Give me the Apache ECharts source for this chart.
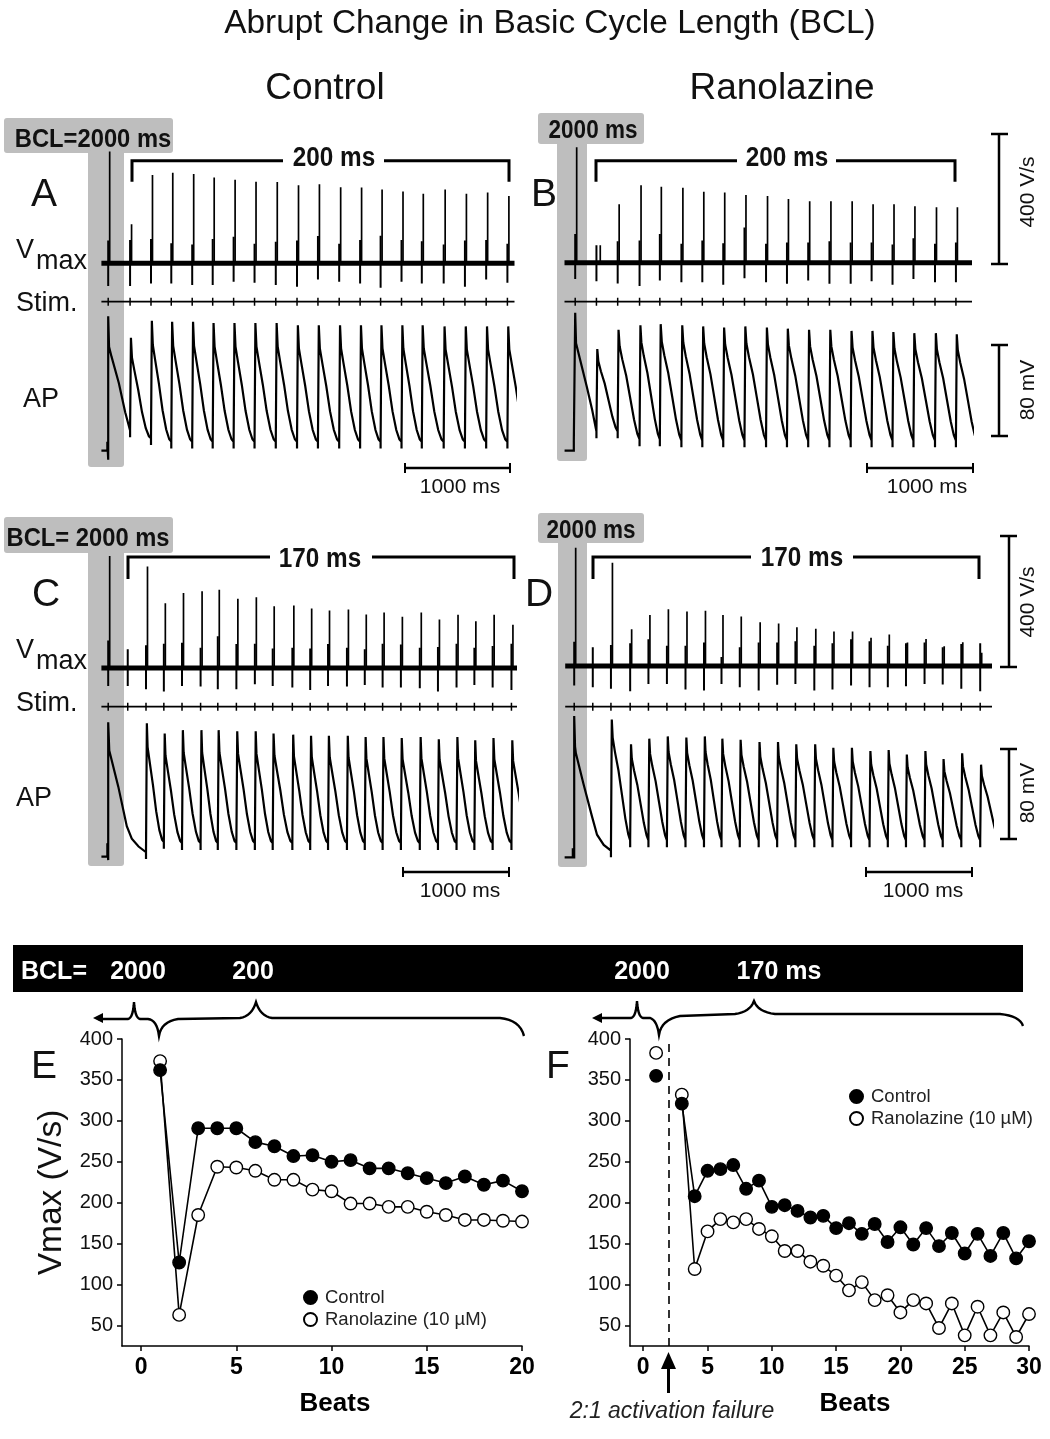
<!DOCTYPE html>
<html><head><meta charset="utf-8"><style>html,body{margin:0;padding:0;background:#fff}#c{width:1050px;height:1439px}</style>
<script src="https://cdn.jsdelivr.net/npm/echarts@6/dist/echarts.min.js"></script></head>
<body><div id="c"></div>
<script>
// ---- Panel E / F summary data (Vmax in V/s by beat)
const beatsE = [1,2,3,4,5,6,7,8,9,10,11,12,13,14,15,16,17,18,19,20];
const controlE = [362,127,291,291,291,274,269,257,258,250,252,242,242,236,230,224,232,222,227,214];
const ranolazineE = [373,63,185,244,243,239,228,228,216,214,199,199,195,195,189,185,179,179,178,177];
const beatsF = [1,2,3,4,5,6,7,8,9,10,11,12,13,14,15,16,17,18,19,20,21,22,23,24,25,26,27,28,29,30];
const controlF = [355,null,321,208,239,241,246,217,227,195,197,190,182,184,169,175,162,174,152,170,149,169,147,163,138,162,135,163,132,153];
const ranolazineF = [383,null,332,119,165,180,176,180,168,159,141,141,128,123,111,93,103,81,87,66,81,77,47,77,38,73,38,66,36,64];
const yTicks = [50,100,150,200,250,300,350,400];
const xTicksE = [0,5,10,15,20];
const xTicksF = [0,5,10,15,20,25,30];

// ---- Panel A trace readings (ms, V/s, mV above rest)
const aBeats = [0,206,403,594,791,984,1181,1378,1578,1778,1975,2175,2372,2565,2762,2953,3159,3359,3559,3759];
const aSpikes = [344,120,272,279,275,264,257,251,250,240,243,234,233,227,221,214,227,214,218,207];
const aUp = [70,72,75,62,58,75,82,60,66,70,84,60,72,85,72,68,58,70,72,60];
const aDown = [70,70,62,62,67,67,57,60,67,72,50,57,62,75,57,62,62,72,50,60];
const aPeaks = [null,100,115,114,114,113,113,113,113,111,111,111,111,111,111,111,110,110,110,110];
const aTroughs = [null,11,8,8,8,8,8,8,8,8,8,8,8,8,8,8,8,8,8,8];
const aFirst = [[-64,0],[-8,0],[-8,8],[0,8],[0,-8],[0,119],[8,92],[32,83],[100,60],[160,34],[206,18]];

// ---- Panel B
const bBeats = [0,200,400,606,797,1000,1197,1394,1594,1797,1994,2194,2394,2594,2791,2988,3185,3388,3585];
const bSpikes = [355,54,180,238,234,231,218,216,208,205,196,189,189,189,180,180,174,171,171];
const bUp = [88,54,66,68,88,58,68,60,108,58,62,62,66,62,62,56,75,58,62];
const bDown = [50,57,64,72,55,60,60,68,48,60,65,55,65,65,57,68,50,60,60];
const bPeaks = [null,90,107,111,112,111,110,109,110,109,108,107,107,106,106,105,104,104,103];
const bTroughs = [null,17,10,10,9,9,9,9,9,9,9,9,9,9,9,9,9,9,9];
const bFirst = [[-100,0],[-13,0],[-13,8],[0,8],[0,122],[8,95],[111,56],[160,36],[200,17]];
const bDelays = [14,36];

// ---- Panel C
const cBeats = [0,184,356,524,695,870,1032,1207,1381,1549,1734,1902,2070,2248,2416,2584,2756,2934,3105,3280,3448,3620,3797];
const cSpikes = [345,null,312,199,231,236,241,213,218,190,192,183,177,180,165,171,158,171,149,164,144,164,133];
const cUp = [85,58,70,75,78,62,98,74,75,60,62,60,74,62,58,75,72,62,65,75,62,68,75];
const cDown = [55,55,65,72,55,57,65,65,50,55,60,68,55,57,52,60,60,62,72,60,52,60,68];
const cPeaks = [null,null,118,109,112,112,112,111,111,109,108,107,107,107,106,106,105,106,104,106,103,105,103];
const cTroughs = [null,null,13,12,12,12,12,12,12,12,12,12,12,12,12,12,12,12,12,12,12,12,12];
const cFirst = [[-64,0],[-8,0],[-8,12],[0,12],[0,-3],[0,119],[10,94],[95,62],[175,27],[222,16],[286,9],[356,4]];

// ---- Panel D
const dBeats = [0,175,346,527,699,873,1048,1222,1387,1559,1737,1911,2083,2261,2432,2607,2781,2953,3124,3299,3470,3645,3823];
const dSpikes = [364,null,318,113,157,175,168,170,157,152,135,131,119,115,106,106,87,97,72,83,61,73,41];
const dUp = [75,58,65,70,82,62,62,72,28,58,72,72,76,62,70,82,76,62,70,72,58,68,70];
const dDown = [60,65,70,78,55,55,72,75,55,65,75,58,55,75,72,60,65,65,62,55,57,70,78];
const dPeaks = [null,null,122,100,105,107,106,107,105,104,102,102,100,100,97,97,94,95,91,94,87,92,82];
const dTroughs = [null,null,15,15,15,15,15,15,15,15,15,15,15,15,15,15,15,15,15,15,15,15,15];
const dFirst = [[-90,0],[-13,0],[-13,8],[0,8],[0,-1],[0,125],[8,98],[16,92],[87,65],[168,36],[215,20],[278,11],[346,6]];

// fall shapes read from one typical beat: [fraction of cycle, fraction of fall]
const controlShape = [[0.04,0],[0.09,0.2],[0.21,0.33],[0.39,0.52],[0.57,0.74],[0.75,0.9],[0.9,0.98],[1,1]];
const ranolazineShape = [[0.04,0],[0.09,0.15],[0.21,0.27],[0.39,0.42],[0.57,0.62],[0.75,0.82],[0.9,0.95],[1,1]];

const panels = [
 {beats:aBeats,spikes:aSpikes,up:aUp,down:aDown,peaks:aPeaks,troughs:aTroughs,first:aFirst,shape:controlShape,delays:[14],
  t0:108.2,left:101.4,right:514.5,base:263.3,stim:301.7,rest:450.7},
 {beats:bBeats,spikes:bSpikes,up:bUp,down:bDown,peaks:bPeaks,troughs:bTroughs,first:bFirst,shape:ranolazineShape,delays:bDelays,
  t0:575.2,left:564.5,right:972,base:262.7,stim:301.7,rest:450.7},
 {beats:cBeats,spikes:cSpikes,up:cUp,down:cDown,peaks:cPeaks,troughs:cTroughs,first:cFirst,shape:controlShape,delays:[14],
  t0:108.2,left:101.4,right:517,base:668,stim:706.7,rest:856.7},
 {beats:dBeats,spikes:dSpikes,up:dUp,down:dDown,peaks:dPeaks,troughs:dTroughs,first:dFirst,shape:ranolazineShape,delays:[14],
  t0:574.2,left:565.2,right:992,base:666,stim:706.7,rest:857.3}
];
const PX_PER_MS = 0.1062, BREAK = '-';

const grid=[], xAxis=[], yAxis=[], series=[];
function addGrid(left,top,width,height,xMin,xMax,yMin,yMax){
  grid.push({left,top,width,height,containLabel:false});
  xAxis.push({type:'value',gridIndex:grid.length-1,min:xMin,max:xMax,show:false});
  yAxis.push({type:'value',gridIndex:grid.length-1,min:yMin,max:yMax,show:false});
  return grid.length-1;
}
function trace(idx,data,width){
  series.push({type:'line',xAxisIndex:idx,yAxisIndex:idx,data,showSymbol:false,symbol:'none',connectNulls:false,
    silent:true,animation:false,clip:true,z:5,lineStyle:{color:'#000',width,join:'miter',cap:'butt'}});
}
panels.forEach(p=>{
  const w=p.right-p.left, tMin=-(p.t0-p.left)/PX_PER_MS, tMax=(p.right-p.t0)/PX_PER_MS;
  const end=tMax;
  // Vmax row
  const vi=addGrid(p.left,p.base-130,w,162.5,tMin,tMax,-100,400);
  trace(vi,[[tMin,0],[end,0]],5);
  const art=[], sp=[];
  p.beats.forEach((t,i)=>{
    art.push([t,-p.down[i]],[t,p.up[i]],[t,BREAK]);
    const dl=p.delays[i]!==undefined?p.delays[i]:p.delays[0];
    if(p.spikes[i]!==null){ sp.push([t+dl,0],[t+dl,p.spikes[i]],[t+dl,BREAK]); }
  });
  trace(vi,art,2); trace(vi,sp,1.7);
  // Stim row
  const si=addGrid(p.left,p.stim-5,w,10,tMin,tMax,-1,1);
  trace(si,[[tMin,0],[end,0]],1.7);
  const st=[]; p.beats.forEach(t=>st.push([t,-0.8],[t,0.8],[t,BREAK]));
  trace(si,st,1.5);
  // AP row
  const ai=addGrid(p.left,p.rest-146.9,w,158.2,tMin,tMax,-10,130);
  const ap=p.first.slice();
  let prev=p.first[p.first.length-1][1];
  p.beats.forEach((t,i)=>{
    if(p.peaks[i]===null) return;
    const next=i+1<p.beats.length?p.beats[i+1]:t+(t-p.beats[i-1]);
    const cyc=next-t;
    ap.push([t,prev],[t,prev-6],[t,prev],[t+8,p.peaks[i]]);
    p.shape.forEach(s=>{ if(s[0]>0.04) ap.push([t+s[0]*cyc,p.peaks[i]-s[1]*(p.peaks[i]-p.troughs[i])]); });
    prev=p.troughs[i];
  });
  trace(ai,ap,2.2);
});

// ---- E / F charts
function summary(left,width,xMin,xMax,xTicks,beats,ctl,ran,name){
  grid.push({left,top:1039,width,height:307,containLabel:false});
  const idx=grid.length-1;
  xAxis.push({type:'value',gridIndex:idx,min:xMin,max:xMax,
    axisLine:{onZero:false,lineStyle:{color:'#000',width:1.5}},
    axisTick:{customValues:xTicks,length:5,lineStyle:{color:'#000',width:1.5}},
    axisLabel:{customValues:xTicks,fontFamily:'Liberation Sans',fontWeight:'bold',fontSize:23,color:'#000',margin:10},
    splitLine:{show:false}});
  yAxis.push({type:'value',gridIndex:idx,min:25,max:400,
    name:name,nameLocation:'middle',nameRotate:90,nameGap:53,
    nameTextStyle:{fontFamily:'Liberation Sans',fontSize:33.5,color:'#111'},
    axisLine:{onZero:false,lineStyle:{color:'#000',width:1.5}},
    axisTick:{customValues:yTicks,length:5,lineStyle:{color:'#000',width:1.5}},
    axisLabel:{customValues:yTicks,fontFamily:'Liberation Sans',fontSize:20,color:'#111',margin:9},
    splitLine:{show:false}});
  const mk=(nm,vals,fill)=>({type:'line',name:nm,xAxisIndex:idx,yAxisIndex:idx,z:6,
    data:beats.map((b,i)=>[b,vals[i]===null?'-':vals[i]]),symbol:'circle',symbolSize:12.5,showAllSymbol:true,connectNulls:false,
    silent:true,animation:false,clip:false,lineStyle:{color:'#000',width:1.6},
    itemStyle:{color:fill,borderColor:'#000',borderWidth:1.4}});
  series.push(mk('Ranolazine (10 µM)',ran,'#fff'));
  series.push(mk('Control',ctl,'#000'));
  return idx;
}
summary(122,400,-1,20,xTicksE,beatsE,controlE,ranolazineE,'Vmax (V/s)');
summary(630,399,-1.03,30,xTicksF,beatsF,controlF,ranolazineF,'');
series[series.length-2].markLine={silent:true,symbol:'none',animation:false,label:{show:false},
  lineStyle:{color:'#000',type:[8,6],width:1.6},data:[{xAxis:2}]};

const legendBase={orient:'vertical',icon:'circle',itemWidth:13,itemHeight:13,itemGap:3,selectedMode:false,
  data:['Control','Ranolazine (10 µM)'],
  textStyle:{fontFamily:'Liberation Sans',fontSize:18.5,color:'#222',padding:[0,0,0,3]}};

// ---- annotations
const g=[];
const FONT='Liberation Sans';
function txt(s,x,y,size,o){o=o||{};
  const rot=o.rot||0;
  g.push({type:'text',x:rot?x+2:x,y:rot?y:y+2,rotation:rot,scaleX:o.sx||1,z:20,silent:true,
    style:{text:s,fill:o.fill||'#111',font:(o.it?'italic ':'')+(o.b?'bold ':'')+size+'px "'+FONT+'"',
      align:o.al||'center',verticalAlign:'middle'}});
}
function seg(pts,w,c){g.push({type:'polyline',z:15,silent:true,shape:{points:pts},style:{stroke:c||'#000',lineWidth:w,fill:'none'}});}
function box(x,y,w,h,r){g.push({type:'rect',z:1,silent:true,shape:{x,y,width:w,height:h,r:r||3},style:{fill:'#bebebe'}});}
txt('Abrupt Change in Basic Cycle Length (BCL)',550,22,33.4);
txt('Control',325,87,37); txt('Ranolazine',782,87,37);
// grey bands
box(4,118,169,35); box(88,150,36,317);
box(538,113,106,31); box(557,140,30,321);
box(4,517,169,36); box(88,550,36,316);
box(538,513,106,30); box(558,540,29,327);
txt('BCL=2000 ms',93,138,25,{b:true,sx:0.95}); txt('2000 ms',593,129,25,{b:true,sx:0.9});
txt('BCL= 2000 ms',88,537,25,{b:true,sx:0.95}); txt('2000 ms',591,529,25,{b:true,sx:0.9});
[['A',44,193],['B',544,193],['C',46,593],['D',539,593],['E',44,1065],['F',558,1065]].forEach(a=>txt(a[0],a[1],a[2],39));
[0,400].forEach(d=>{
  txt('V',16,(d?649:249),27,{al:'left'}); txt('max',36,(d?660:260),27,{al:'left'});
  txt('Stim.',16,(d?702:302),27,{al:'left'});});
txt('AP',41,398,27); txt('AP',34,797,27);
// brackets
[[132,509,283,384,160.7,181.7,334,157,'200 ms'],[596,955,737,836,160.7,181.7,787,157,'200 ms'],
 [128,514,270,372,557,579,320,558,'170 ms'],[593,979,751,853,557,579,802,557,'170 ms']].forEach(b=>{
  seg([[b[0],b[5]],[b[0],b[4]],[b[2],b[4]]],3); seg([[b[3],b[4]],[b[1],b[4]],[b[1],b[5]]],3);
  txt(b[8],b[6],b[7],27,{b:true,sx:0.9});
});
// time scale bars
[[405,510,468,460,485],[867,973,468,927,485],[403,509,872,460,889],[866,972,872,923,889]].forEach(s=>{
  seg([[s[0],s[2]],[s[1],s[2]]],2.5); seg([[s[0],s[2]-5],[s[0],s[2]+5]],2); seg([[s[1],s[2]-5],[s[1],s[2]+5]],2);
  txt('1000 ms',s[3],s[4],21);
});
// amplitude scale bars
[[999,991,1008,134,264,192,'400 V/s',1026],[999,991,1008,345,436,390,'80 mV',1026],
 [1009,1000,1017,536,667,602,'400 V/s',1026],[1009,1000,1017,749,839,793,'80 mV',1026]].forEach(s=>{
  seg([[s[0],s[3]],[s[0],s[4]]],2.5); seg([[s[1],s[3]],[s[2],s[3]]],2.5); seg([[s[1],s[4]],[s[2],s[4]]],2.5);
  txt(s[6],s[7],s[5],21,{rot:Math.PI/2});
});
// black band
g.push({type:'rect',z:2,silent:true,shape:{x:13,y:945,width:1010,height:47},style:{fill:'#000'}});
const W={b:true,fill:'#fff'};
txt('BCL=',54,970,25,W); txt('2000',138,970,25,W); txt('200',253,970,25,W);
txt('2000',642,970,25,W); txt('170 ms',779,970,25,W);
// braces: start point then quadratic pieces, flattened for a polyline
function brace(start,pieces){
  const pts=[start]; let p=start;
  pieces.forEach(q=>{
    if(q.length===2){pts.push(q);p=q;return;}
    for(let k=1;k<=8;k++){const u=k/8,v=1-u;
      pts.push([v*v*p[0]+2*u*v*q[0]+u*u*q[2],v*v*p[1]+2*u*v*q[1]+u*u*q[3]]);}
    p=[q[2],q[3]];
  });
  seg(pts,2.4);
}
brace([98,1019],[[128,1019],[133,1018,134,1002],[135,1018,140,1019],[148,1019],[157,1020,159,1036],[161,1022,178,1019],[240,1018],[252,1016,256,1002],[260,1016,272,1018],[500,1018],[520,1020,524,1036]]);
brace([598,1018],[[631,1018],[636,1017,637,1001],[638,1017,643,1018],[650,1018],[657,1020,659,1035],[661,1020,680,1016],[735,1014],[750,1012,754,1001],[758,1012,775,1014],[1000,1014],[1020,1016,1023,1026]]);
[[93,1018],[592,1018]].forEach(a=>g.push({type:'polygon',z:15,silent:true,shape:{points:[[a[0],a[1]],[a[0]+10,a[1]-5],[a[0]+10,a[1]+5]]},style:{fill:'#000'}}));
// arrow + notes
seg([[668.5,1366],[668.5,1393]],3);
g.push({type:'polygon',z:15,silent:true,shape:{points:[[668.5,1352],[661,1369],[676,1369]]},style:{fill:'#000'}});
txt('2:1 activation failure',672,1410,23,{it:true,fill:'#222'});
txt('Beats',335,1402,26,{b:true,fill:'#000'}); txt('Beats',855,1402,26,{b:true,fill:'#000'});

const chart=echarts.init(document.getElementById('c'),null,{width:1050,height:1439});
chart.setOption({animation:false,backgroundColor:'#fff',grid,xAxis,yAxis,series,
  legend:[Object.assign({left:298,top:1283},legendBase),Object.assign({left:844,top:1082},legendBase)],
  graphic:{elements:g}});
</script></body></html>
